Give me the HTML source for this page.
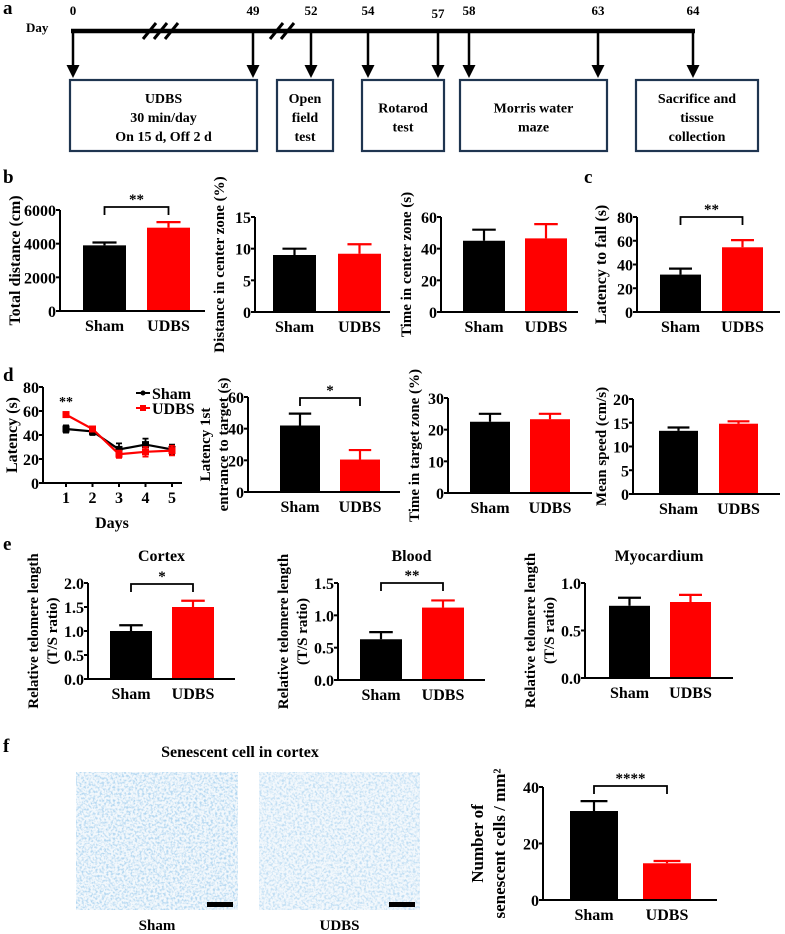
<!DOCTYPE html>
<html><head><meta charset="utf-8">
<style>
html,body{margin:0;padding:0;background:#fff;}
svg{display:block;font-family:"Liberation Serif",serif;font-weight:bold;}
</style></head>
<body>
<svg id="fig" width="785" height="934" viewBox="0 0 785 934" xmlns="http://www.w3.org/2000/svg">
<defs>
<filter id="tex" x="0" y="0" width="100%" height="100%">
<feTurbulence type="fractalNoise" baseFrequency="0.45" numOctaves="2" seed="3"/>
<feColorMatrix type="matrix" values="0 0 0 0 0.45  0 0 0 0 0.68  0 0 0 0 0.88  0 0 0 -3 1.75"/>
</filter>
</defs>
<g id="panelA"></g>
<g id="charts"></g>
</svg>
<script>
// ---------- data ----------
const catLabels=["Sham","UDBS"];
const b1Values=[3900,4950], b1Errors=[170,330], b1Ticks=[0,2000,4000,6000];
const b2Values=[9.0,9.2], b2Errors=[1.0,1.5], b2Ticks=[0,5,10,15];
const b3Values=[45,46.5], b3Errors=[7,9], b3Ticks=[0,20,40,60];
const cValues=[31.5,54.5], cErrors=[5,6], cTicks=[0,20,40,60,80];
const d2Values=[42,20.5], d2Errors=[7.5,6], d2Ticks=[0,20,40,60];
const d3Values=[22.5,23.3], d3Errors=[2.5,1.7], d3Ticks=[0,10,20,30];
const d4Values=[13.3,14.8], d4Errors=[0.7,0.5], d4Ticks=[0,5,10,15,20];
const eCValues=[1.0,1.5], eCErrors=[0.12,0.13], eCTicks=[0,0.5,1,1.5,2];
const eBValues=[0.63,1.12], eBErrors=[0.11,0.11], eBTicks=[0,0.5,1,1.5];
const eMValues=[0.76,0.80], eMErrors=[0.085,0.075], eMTicks=[0,0.5,1];
const fValues=[31.5,13], fErrors=[3.5,0.8], fTicks=[0,20,40];
const lineDays=[1,2,3,4,5];
const shamLatency=[45,43,28,32,28], shamLatErr=[3,3,5,5,4];
const udbsLatency=[57,45,24,26,27], udbsLatErr=[2,2,3,4,4];
const lineTicks=[0,20,40,60,80];
const timelineDays=[0,49,52,54,57,58,63,64];

const NS="http://www.w3.org/2000/svg";
const root=document.getElementById('charts');
function el(tag,attrs,parent,text){
  const e=document.createElementNS(NS,tag);
  for(const k in attrs) e.setAttribute(k,attrs[k]);
  if(text!==undefined) e.textContent=text;
  (parent||root).appendChild(e);
  return e;
}
const COLORS=["#000","#ff0000"];

function barChart(o){
  const g=el('g',{});
  
  
  const y=v=>o.y0-(v-o.ticks[0])/(o.ticks[o.ticks.length-1]-o.ticks[0])*(o.y0-o.yTop);
  o.values.forEach((v,i)=>{
    const x1=o.ax+o.pad+i*o.step;
    const r=el('rect',{x:x1,y:y(v),width:o.w,height:o.y0-y(v),fill:COLORS[i]},g);
    
    
    const cx=x1+o.w/2, top=y(v+o.errors[i]);
    const eb=el('path',{d:`M${cx},${y(v)}V${top}M${cx-o.w*0.28},${top}H${cx+o.w*0.28}`,stroke:COLORS[i],'stroke-width':2.2,fill:'none'},g);
    
    
    const t=el('text',{x:cx,y:o.y0+20,'text-anchor':'middle','font-size':16},g,catLabels[i]);
    
    
  });
  const ax=el('path',{d:`M${o.ax},${y(o.ticks[o.ticks.length-1])}V${o.y0}H${o.xEnd}`,stroke:'#000','stroke-width':2,fill:'none'},g);
  
  
  o.ticks.forEach(t=>{
    el('line',{x1:o.ax-4,x2:o.ax,y1:y(t),y2:y(t),stroke:'#000','stroke-width':2},g);
    const tl=el('text',{x:o.ax-4,y:y(t)+6,'text-anchor':'end','font-size':16},g,o.fmt?t.toFixed(1):String(t));
    
    
  });
  const mid=(o.y0+o.yTop)/2;
  o.ylabel.forEach((s,k)=>{
    const lx=o.ylx[k];
    const yl=el('text',{x:lx,y:mid,transform:`rotate(-90 ${lx} ${mid})`,'text-anchor':'middle','font-size':o.yls||15},g,s);
    
    
  });
  if(o.sig){
    const c1=o.ax+o.pad+o.w/2, c2=c1+o.step, by=o.sigY;
    const br=el('path',{d:`M${c1},${by+8}V${by}H${c2}V${by+8}`,stroke:'#000','stroke-width':1.8,fill:'none'},g);
    
    
    const st=el('text',{x:(c1+c2)/2,y:by-3,'text-anchor':'middle','font-size':15},g,o.sig);
    
    
  }
  if(o.title){
    const tt=el('text',{x:(o.ax+o.xEnd)/2,y:o.titleY,'text-anchor':'middle','font-size':16},g,o.title);
    
    
  }
}

// b row
barChart({name:'total-distance-chart',values:b1Values,errors:b1Errors,ticks:b1Ticks,ax:60,y0:311,yTop:210,xEnd:205,pad:23,w:43,step:64,ylabel:['Total distance (cm)'],ylx:[20],yls:16,sig:'**',sigY:207});
barChart({name:'distance-center-chart',values:b2Values,errors:b2Errors,ticks:b2Ticks,ax:255,y0:312,yTop:217,xEnd:390,pad:18,w:43,step:65,ylabel:['Distance in center zone (%)'],ylx:[224],yls:15});
barChart({name:'time-center-chart',values:b3Values,errors:b3Errors,ticks:b3Ticks,ax:441,y0:312,yTop:217,xEnd:578,pad:22,w:42,step:62,ylabel:['Time in center zone (s)'],ylx:[411],yls:15});
barChart({name:'latency-to-fall-chart',values:cValues,errors:cErrors,ticks:cTicks,ax:637,y0:312,yTop:217,xEnd:780,pad:23,w:41,step:62,ylabel:['Latency to fall (s)'],ylx:[606],yls:16,sig:'**',sigY:217});
// d row
barChart({name:'latency-first-entrance-chart',values:d2Values,errors:d2Errors,ticks:d2Ticks,ax:248,y0:492,yTop:397,xEnd:400,pad:32,w:40,step:60,ylabel:['Latency 1st','entrance to target (s)'],ylx:[210,228],yls:15,sig:'*',sigY:398});
barChart({name:'time-target-zone-chart',values:d3Values,errors:d3Errors,ticks:d3Ticks,ax:448,y0:493,yTop:398,xEnd:592,pad:22,w:40,step:60,ylabel:['Time in target zone (%)'],ylx:[419],yls:15});
barChart({name:'mean-speed-chart',values:d4Values,errors:d4Errors,ticks:d4Ticks,ax:633,y0:494,yTop:399,xEnd:780,pad:26,w:39,step:60,ylabel:['Mean speed (cm/s)'],ylx:[606],yls:15});
// e row
barChart({name:'cortex-telomere-chart',values:eCValues,errors:eCErrors,ticks:eCTicks,ax:88,y0:679,yTop:583,xEnd:235,pad:22,w:42,step:62,fmt:1,ylabel:['Relative telomere length','(T/S ratio)'],ylx:[38,57],yls:15,sig:'*',sigY:584,title:'Cortex',titleY:561});
barChart({name:'blood-telomere-chart',values:eBValues,errors:eBErrors,ticks:eBTicks,ax:338,y0:680,yTop:583,xEnd:485,pad:22,w:42,step:62,fmt:1,ylabel:['Relative telomere length','(T/S ratio)'],ylx:[288,307],yls:15,sig:'**',sigY:583,title:'Blood',titleY:561});
barChart({name:'myocardium-telomere-chart',values:eMValues,errors:eMErrors,ticks:eMTicks,ax:585,y0:678,yTop:583,xEnd:733,pad:24,w:41,step:61,fmt:1,ylabel:['Relative telomere length','(T/S ratio)'],ylx:[535,554],yls:15,title:'Myocardium',titleY:561});
// f chart
barChart({name:'senescent-cells-chart',values:fValues,errors:fErrors,ticks:fTicks,ax:543,y0:900,yTop:787,xEnd:717,pad:27,w:48,step:73,ylabel:['Number of','senescent cells / mm\u00b2'],ylx:[483,505],yls:17,sig:'****',sigY:786});

// line chart d
(function(){
  const g=el('g',{});
  
  
  const ax=43,y0=483,yTop=387,xEnd=182;
  const x=d=>66+(d-1)*26.5;
  const y=v=>y0-v/80*(y0-yTop);
  const a=el('path',{d:`M${ax},${yTop}V${y0}H${xEnd}`,stroke:'#000','stroke-width':2,fill:'none'},g);
  
  
  lineTicks.forEach(t=>{
    el('line',{x1:ax-4,x2:ax,y1:y(t),y2:y(t),stroke:'#000','stroke-width':2},g);
    const tl=el('text',{x:ax-4,y:y(t)+6,'text-anchor':'end','font-size':16},g,String(t));
    
    
  });
  lineDays.forEach(d=>{
    el('line',{x1:x(d),x2:x(d),y1:y0,y2:y0+4,stroke:'#000','stroke-width':2},g);
    const tl=el('text',{x:x(d),y:y0+20,'text-anchor':'middle','font-size':16},g,String(d));
    
    
  });
  [[shamLatency,shamLatErr,'#000','sham'],[udbsLatency,udbsLatErr,'#ff0000','udbs']].forEach(([vals,errs,c,n])=>{
    const pl=el('polyline',{points:vals.map((v,i)=>x(lineDays[i])+','+y(v)).join(' '),stroke:c,'stroke-width':2.2,fill:'none'},g);
    
    
    vals.forEach((v,i)=>{
      const cx=x(lineDays[i]);
      el('path',{d:`M${cx},${y(v-errs[i])}V${y(v+errs[i])}M${cx-3},${y(v-errs[i])}h6M${cx-3},${y(v+errs[i])}h6`,stroke:c,'stroke-width':1.8},g);
      const p=el('rect',{x:cx-3.5,y:y(v)-3.5,width:7,height:7,fill:c},g);
      
      
    });
  });
  const st=el('text',{x:66,y:406,'text-anchor':'middle','font-size':14},g,'**');
  
  
  const lg=el('g',{},g);
  
  
  el('line',{x1:136,x2:150,y1:393,y2:393,stroke:'#000','stroke-width':2},lg);
  el('circle',{cx:143,cy:393,r:2.5,fill:'#000'},lg);
  el('text',{x:152,y:399,'font-size':16},lg,'Sham');
  el('line',{x1:136,x2:150,y1:408,y2:408,stroke:'#f00','stroke-width':2},lg);
  el('rect',{x:140,y:405,width:6,height:6,fill:'#f00'},lg);
  el('text',{x:152,y:414,'font-size':16},lg,'UDBS');
  const xl=el('text',{x:112,y:528,'text-anchor':'middle','font-size':16},g,'Days');
  
  
  const yl=el('text',{x:17,y:435,transform:'rotate(-90 17 435)','text-anchor':'middle','font-size':16},g,'Latency (s)');
  
  
})();

// panel a timeline
(function(){
  const g=document.getElementById('panelA');
  const dayX=[73,253,311,368,438,469,598,693];
  const TL=31;
  el('line',{x1:71,x2:695,y1:TL,y2:TL,stroke:'#000','stroke-width':4.5},g);
  timelineDays.forEach((d,i)=>{
    const x=dayX[i];
    const t=el('text',{x:x,y:(d===57?18:15),'text-anchor':'middle','font-size':13},g,String(d));
    
    
    el('line',{x1:x,x2:x,y1:TL,y2:67,stroke:'#000','stroke-width':2.5},g);
    el('path',{d:`M${x-6.5},65L${x+6.5},65L${x},78Z`,fill:'#000'},g);
  });
  [[143,150],[154,161],[165,172],[270,277],[281,288]].forEach(([a,b])=>{
    el('line',{x1:a,y1:39,x2:b+6,y2:23,stroke:'#000','stroke-width':3},g);
  });
  const dl=el('text',{x:26,y:32,'font-size':13},g,'Day');
  
  
  const boxes=[[70,257,['UDBS','30 min/day','On 15 d, Off 2 d'],'udbs-box'],[277,333,['Open','field','test'],'open-field-box'],[362,444,['Rotarod','test'],'rotarod-box'],[460,607,['Morris water','maze'],'morris-box'],[636,758,['Sacrifice and','tissue','collection'],'sacrifice-box']];
  boxes.forEach(([x1,x2,lines,n])=>{
    const bg=el('g',{},g);
    
    
    el('rect',{x:x1,y:80,width:x2-x1,height:71,fill:'#fff',stroke:'#1f3550','stroke-width':2.2},bg);
    const start=117-(lines.length-1)*9.5;
    lines.forEach((s,k)=>el('text',{x:(x1+x2)/2,y:start+k*19+5,'text-anchor':'middle','font-size':14},bg,s));
  });
})();

// panel letters
[['a',3,14],['b',3,183],['c',584,183],['d',3,381],['e',3,550],['f',3,752]].forEach(([s,x,y])=>{
  const t=el('text',{x:x,y:y,'font-size':19},root,s);
  
  
});

// f images
(function(){
  const t=el('text',{x:240,y:757,'text-anchor':'middle','font-size':16},root,'Senescent cell in cortex');
  
  
  [[76,238,'Sham'],[259,420,'UDBS']].forEach(([x1,x2,n])=>{
    const g=el('g',{});
    
    
    el('rect',{x:x1,y:772,width:x2-x1,height:138,fill:'#f3f8fc'},g);
    el('rect',{x:x1,y:772,width:x2-x1,height:138,filter:'url(#tex)',opacity:n==='Sham'?1:0.8},g);
    el('rect',{x:x2-31,y:902,width:26,height:5,fill:'#000'},g);
    el('text',{x:(x1+x2)/2,y:934-4,'text-anchor':'middle','font-size':15},g,n);
  });
})();
</script>
</body></html>
